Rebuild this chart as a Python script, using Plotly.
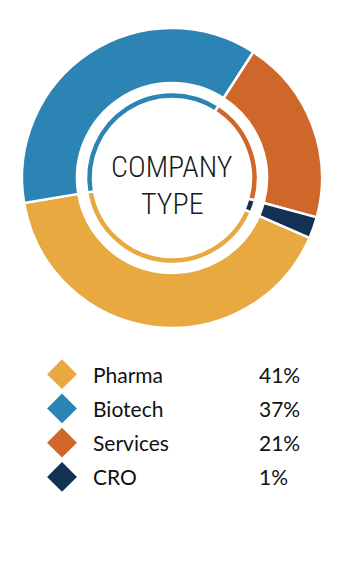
import plotly.graph_objects as go

categories = ["Pharma", "Biotech", "Services", "CRO"]
slice_sizes = [40.8, 36.8, 20.1, 2.3]
pct_labels = ["41%", "37%", "21%", "1%"]
colors = ["#E8A940", "#2C84B5", "#CF672A", "#133153"]
center_lines = ["COMPANY", "TYPE"]

W, H = 343, 574
cx, cy = 172, 178          # pie centre (px from top-left)
R_out, R_in_hole = 150, 95
R_ring, R_ring_hole = 86, 79
rotation = 113.5

def dom(r):
    return dict(x=[(cx - r) / W, (cx + r) / W],
                y=[(H - cy - r) / H, (H - cy + r) / H])

fig = go.Figure()
for r, rh in [(R_out, R_in_hole), (R_ring, R_ring_hole)]:
    fig.add_trace(go.Pie(
        labels=categories, values=slice_sizes, sort=False, direction="clockwise",
        rotation=rotation, hole=rh / r, domain=dom(r),
        marker=dict(colors=colors, line=dict(color="white", width=2.5)),
        textinfo="none", hoverinfo="label", showlegend=False))

rows = list(range(len(categories)))
fig.add_trace(go.Scatter(
    x=[62] * len(rows), y=rows, mode="markers",
    marker=dict(symbol="diamond", size=23, color=colors, line=dict(width=0)),
    hoverinfo="skip", showlegend=False))

annotations = []
for text, ypx in zip(center_lines, [166, 203]):
    annotations.append(dict(text=text, x=cx / W, y=1 - ypx / H, xref="paper", yref="paper",
                            showarrow=False, xanchor="center", yanchor="middle",
                            font=dict(family="Roboto Condensed", weight=300,
                                      size=30, color="#1a1a1a")))
for i, (c, p) in enumerate(zip(categories, pct_labels)):
    annotations.append(dict(text=c, x=91, y=i, xref="x", yref="y", xanchor="left",
                            yanchor="middle", showarrow=False,
                            font=dict(family="Lato", size=21, color="#111111")))
    annotations.append(dict(text=p, x=257, y=i, xref="x", yref="y", xanchor="left",
                            yanchor="middle", showarrow=False,
                            font=dict(family="Lato", size=21, color="#111111")))

fig.update_layout(
    width=W, height=H, margin=dict(l=0, r=0, t=0, b=0),
    paper_bgcolor="white", plot_bgcolor="rgba(0,0,0,0)",
    xaxis=dict(range=[0, W], domain=[0, 1], visible=False, fixedrange=True),
    yaxis=dict(range=[3.5, -0.5], domain=[(H - 494) / H, (H - 357) / H], visible=False,
               fixedrange=True),
    annotations=annotations,
)
fig.write_html("out.html")
